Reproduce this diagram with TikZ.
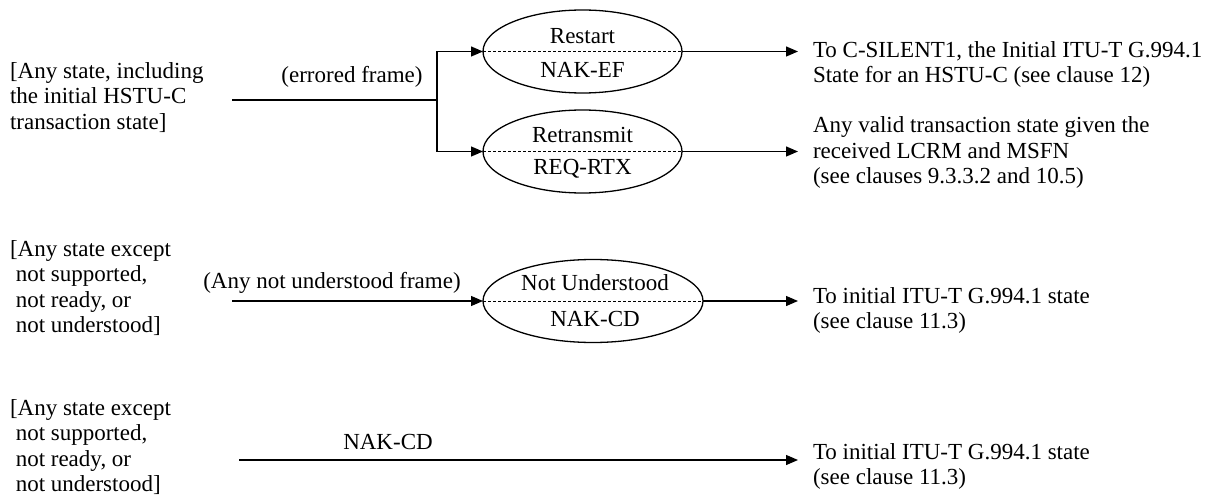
\documentclass[tikz,border=0pt]{standalone}
\usepackage{fontspec}
\setmainfont{Liberation Serif}
\usetikzlibrary{shapes.geometric,arrows.meta}
\begin{document}
\begin{tikzpicture}[x=1pt,y=-1pt,
  every node/.style={font=\fontsize{23}{25.6}\selectfont, inner sep=0pt, outer sep=0pt},
  txt/.style={align=left, anchor=west},
  lbl/.style={anchor=center},
  st/.style={ellipse, draw, line width=1.3pt, minimum width=199pt, minimum height=83pt},
  ln/.style={line width=1.3pt},
  arr/.style={line width=1.3pt, -{Triangle[length=12pt,width=10pt]}},
  dsh/.style={line width=0.9pt, dash pattern=on 3pt off 2pt}
]
\useasboundingbox (0,0) rectangle (1218,497);

% left sources
\node[txt] (src1) at (10,97.5) {[Any state, including\\the initial HSTU-C\\transaction state]};
\node[txt] (src3) at (10,288) {[Any state except\\\hspace{0.25em}not supported,\\\hspace{0.25em}not ready, or\\\hspace{0.25em}not understood]};
\node[txt] (src4) at (10,447) {[Any state except\\\hspace{0.25em}not supported,\\\hspace{0.25em}not ready, or\\\hspace{0.25em}not understood]};

% states
\node[st] (restart) at (582.5,51.5) {};
\node[st] (retx) at (582.5,151.5) {};
\node[st, minimum width=220pt] (notund) at (593,301) {};
\draw[dsh] (restart.west) -- (restart.east);
\draw[dsh] (retx.west) -- (retx.east);
\draw[dsh] (notund.west) -- (notund.east);
\node[lbl] (restartA) at (582.5,36) {Restart};
\node[lbl] (restartB) at (582.5,70) {NAK-EF};
\node[lbl] (retxA) at (582.5,135) {Retransmit};
\node[lbl] (retxB) at (582.5,169) {REQ-RTX};
\node[lbl] (notundA) at (595,283) {Not Understood};
\node[lbl] (notundB) at (595,319) {NAK-CD};

% labels on connectors
\node[lbl] (errf) at (352,77) {(errored frame)};
\node[lbl] (anyf) at (332,283) {(Any not understood frame)};
\node[lbl] (nakcd) at (388,442) {NAK-CD};

% destinations
\node[txt] (dst1) at (813,64.5) {To C-SILENT1, the Initial ITU-T G.994.1\\State for an HSTU-C (see clause 12)};
\node[txt] (dst2) at (813,152.5) {Any valid transaction state given the\\received LCRM and MSFN\\(see clauses 9.3.3.2 and 10.5)};
\node[txt] (dst3) at (813,310.5) {To initial ITU-T G.994.1 state\\(see clause 11.3)};
\node[txt] (dst4) at (813,466.5) {To initial ITU-T G.994.1 state\\(see clause 11.3)};

% connectors
\coordinate (s1) at (232,100);
\coordinate (j) at (437,100);
\draw[ln] (s1) -- (j);
\draw[arr] (j) |- (restart.west);
\draw[arr] (j) |- (retx.west);
\coordinate (e1) at (798,51.5);
\coordinate (e2) at (798,151.5);
\draw[arr] (restart.east) -- (e1);
\draw[arr] (retx.east) -- (e2);

\coordinate (s3) at (232,301);
\draw[arr] (s3) -- (notund.west);
\coordinate (e3) at (798,301);
\draw[arr] (notund.east) -- (e3);

\coordinate (s4) at (239,460);
\coordinate (e4) at (798,460);
\draw[arr] (s4) -- (e4);
\end{tikzpicture}
\end{document}
